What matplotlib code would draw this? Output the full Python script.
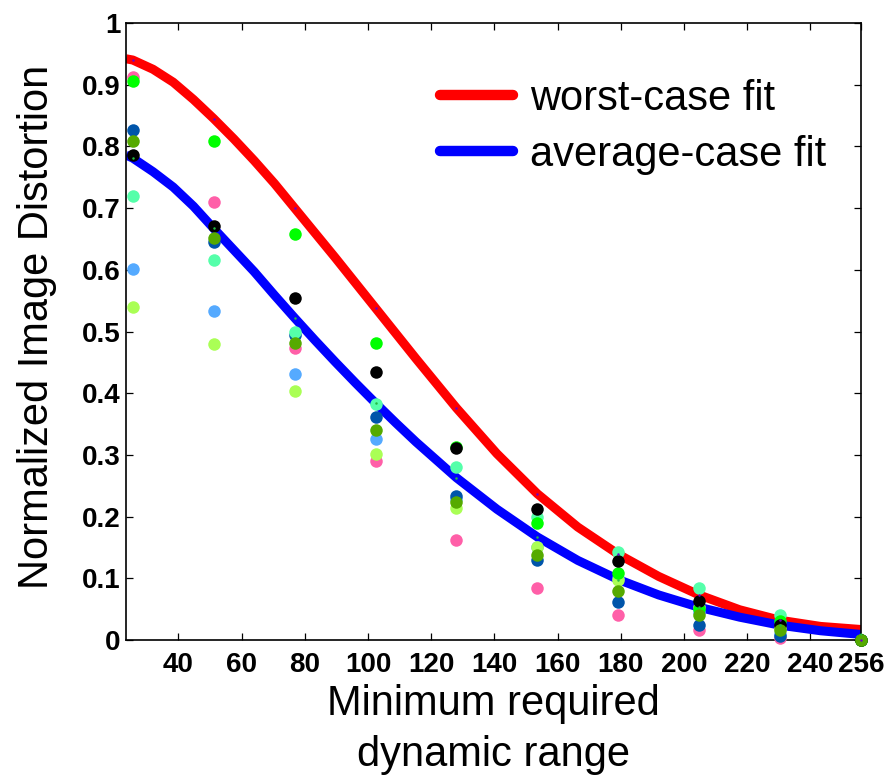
import numpy as np
import matplotlib
matplotlib.use('Agg')
import matplotlib.pyplot as plt

plt.rcParams['font.family'] = ['Liberation Sans', 'DejaVu Sans']

# dynamic range levels (256/10 steps)
levels = [25.6, 51.2, 76.8, 102.4, 128.0, 153.6, 179.2, 204.8, 230.4, 256.0]

# distortion per image at each level, in drawing order
d_pink = [0.913, 0.710, 0.474, 0.290, 0.162, 0.084, 0.040, 0.016, 0.003, 0.0]
d_lightblue = [0.602, 0.533, 0.431, 0.326, 0.228, 0.151, 0.100, 0.045, 0.010, 0.0]
d_darkblue = [0.826, 0.645, 0.495, 0.361, 0.234, 0.129, 0.062, 0.024, 0.006, 0.0]
d_lightgreen = [0.539, 0.479, 0.404, 0.302, 0.214, 0.150, 0.097, 0.053, 0.020, 0.0]
d_aqua = [0.719, 0.616, 0.499, 0.382, 0.281, 0.199, 0.142, 0.084, 0.041, 0.0]
d_green = [0.906, 0.809, 0.658, 0.482, 0.313, 0.190, 0.108, 0.050, 0.030, 0.0]
d_black = [0.786, 0.671, 0.554, 0.434, 0.311, 0.213, 0.128, 0.064, 0.024, 0.0]
d_olive = [0.809, 0.651, 0.482, 0.340, 0.224, 0.137, 0.080, 0.041, 0.016, 0.0]

series = [d_pink, d_lightblue, d_darkblue, d_lightgreen, d_aqua, d_green, d_black, d_olive]
colors = ['#ff5fa8', '#55aaff', '#0055aa', '#aaff55', '#55ffaa', '#00ff00', '#000000', '#55aa00']

# fitted curves, sampled along the range
fit_x = [23.45, 25.6, 32.0, 38.4, 44.8, 51.2, 57.6, 64.0, 70.4, 76.8, 83.2, 89.6, 96.0,
         102.4, 108.8, 115.2, 128.0, 140.8, 153.6, 166.4, 179.2, 192.0, 204.8, 217.6,
         230.4, 243.2, 256.0]
worst_fit = [0.942, 0.940, 0.925, 0.904, 0.876, 0.845, 0.812, 0.777, 0.740, 0.700, 0.660,
             0.620, 0.579, 0.538, 0.497, 0.456, 0.376, 0.302, 0.237, 0.183, 0.139, 0.103,
             0.073, 0.049, 0.032, 0.022, 0.017]
avg_fit = [0.786, 0.781, 0.759, 0.734, 0.703, 0.667, 0.632, 0.597, 0.559, 0.522, 0.486,
           0.451, 0.417, 0.384, 0.352, 0.321, 0.263, 0.212, 0.167, 0.129, 0.098, 0.073,
           0.053, 0.037, 0.024, 0.015, 0.009]

# fit samples at the levels
worst_pts = [0.940, 0.845, 0.700, 0.538, 0.376, 0.237, 0.139, 0.073, 0.032, 0.0]
avg_pts = [0.781, 0.667, 0.522, 0.384, 0.263, 0.167, 0.098, 0.053, 0.024, 0.009]

xticks = [40, 60, 80, 100, 120, 140, 160, 180, 200, 220, 240, 256]
yticks = [0, 0.1, 0.2, 0.3, 0.4, 0.5, 0.6, 0.7, 0.8, 0.9, 1.0]
ytick_labels = ['0', '0.1', '0.2', '0.3', '0.4', '0.5', '0.6', '0.7', '0.8', '0.9', '1']

fig = plt.figure(figsize=(8.88, 7.78), dpi=100)
ax = fig.add_axes([126 / 888, 138 / 778, 735 / 888, 617 / 778])

ax.plot(fit_x, worst_fit, color='#ff0000', lw=6.5, solid_capstyle='butt',
        solid_joinstyle='round', label='worst-case fit', zorder=2)
ax.plot(fit_x, avg_fit, color='#0000ff', lw=6.5, solid_capstyle='butt',
        solid_joinstyle='round', label='average-case fit', zorder=2)

for vals, c in zip(series, colors):
    ax.plot(levels, vals, 'o', color=c, ms=9, mec='none', zorder=3, clip_on=False)

ax.plot(levels, worst_pts, 'o', color='#6a00c8', ms=1.8, mec='none', zorder=4, clip_on=False)
ax.plot(levels, avg_pts, 'o', color='#22bb44', ms=1.8, mec='none', zorder=4)

ax.set_xlim(23.45, 256)
ax.set_ylim(0, 1)
ax.set_xticks(xticks)
ax.set_xticklabels([str(t) for t in xticks])
ax.set_yticks(yticks)
ax.set_yticklabels(ytick_labels)

for s in ax.spines.values():
    s.set_linewidth(1.2)
ax.tick_params(direction='in', length=5, width=0.9, top=True, right=True, labelsize=20)
ax.tick_params(axis='x', pad=9)
ax.tick_params(axis='y', pad=4)
for lab in ax.get_xticklabels() + ax.get_yticklabels():
    lab.set_fontweight('bold')

fig.text(37 / 888, 1 - 327 / 778, 'Normalized Image Distortion', rotation=90,
         ha='center', va='center', fontsize=30)
fig.text(493.5 / 888, 1 - 684 / 778, 'Minimum required\ndynamic range',
         ha='center', va='top', fontsize=30, linespacing=1.36)

leg = ax.legend(loc='upper left', bbox_to_anchor=(440 / 888, 1 - 79 / 778),
                bbox_transform=fig.transFigure, frameon=False, fontsize=30,
                handlelength=1.75, handletextpad=0.42, labelspacing=0.38,
                borderpad=0, borderaxespad=0)
for line in leg.get_lines():
    line.set_linewidth(7.5)
    line.set_solid_capstyle('round')

fig.savefig('out.png', dpi=100)
